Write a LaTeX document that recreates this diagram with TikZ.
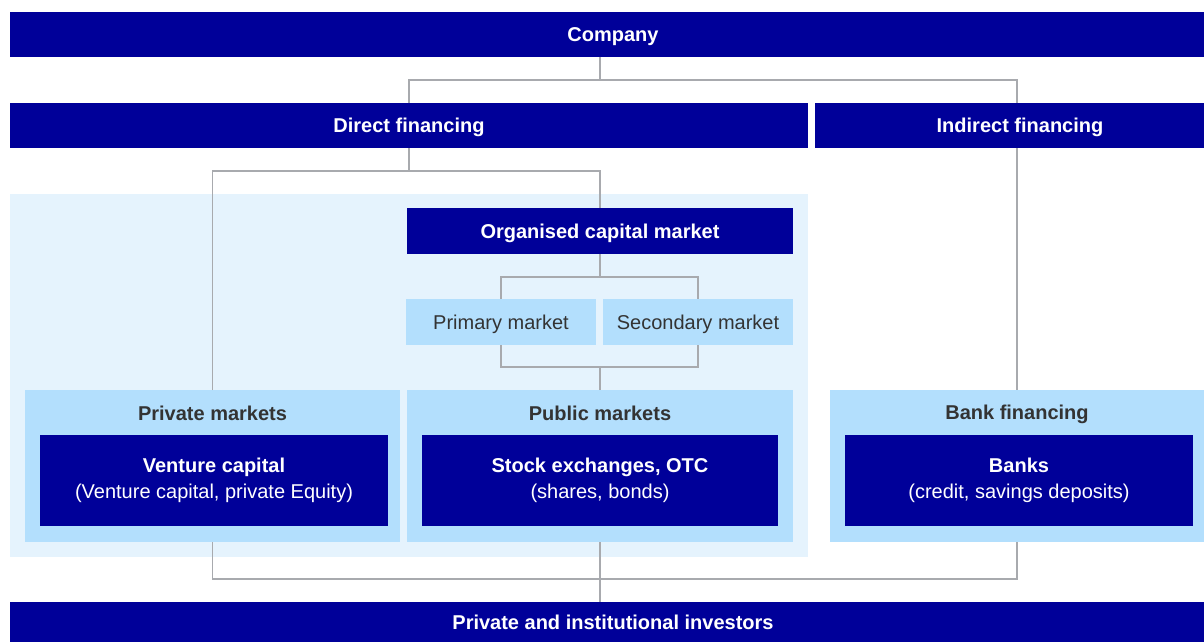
\documentclass[tikz,border=0pt]{standalone}
\usepackage{fontspec}
\setmainfont{Liberation Sans}
\usetikzlibrary{calc}
\definecolor{darkblue}{RGB}{0,0,153}
\definecolor{lightbox}{RGB}{179,223,253}
\definecolor{bgblue}{RGB}{229,243,253}
\definecolor{textgray}{RGB}{51,51,51}
\definecolor{lineg}{RGB}{168,170,174}
\tikzset{
  darkrect/.style={fill=darkblue, draw=none, inner sep=0pt, outer sep=0pt, text=white, align=center,
    font=\fontsize{20}{26}\selectfont},
  lightrect/.style={fill=lightbox, draw=none, inner sep=0pt, outer sep=0pt, text=textgray, align=center,
    font=\fontsize{20}{26}\selectfont},
  oneline/.style={text height=14.5pt, text depth=0pt},
  whitetext/.style={inner sep=0pt, text=white, font=\fontsize{20}{26}\selectfont\bfseries, oneline},
  graytitle/.style={inner sep=0pt, text=textgray, font=\fontsize{20}{26}\selectfont\bfseries, oneline},
  conn/.style={draw=lineg, line width=1.3pt}
}
\begin{document}
\begin{tikzpicture}[x=1pt,y=-1pt]
\useasboundingbox (0,0) rectangle (1204,642);
% background region of direct financing
\fill[bgblue] (10,194) rectangle (808,557);

% top bars
\node[darkrect, minimum width=1194pt, minimum height=45pt] (company) at (607,34.5) {};
\node[whitetext] (companyt) at (613,34.5) {Company};
\node[darkrect, oneline, minimum width=798pt, minimum height=45pt, font=\fontsize{20}{26}\selectfont\bfseries] (direct) at (409,125.5) {Direct financing};
\node[darkrect, minimum width=389pt, minimum height=45pt] (indirect) at (1009.5,125.5) {};
\node[whitetext] (indirectt) at (1020,125.5) {Indirect financing};

% organised capital market
\node[darkrect, oneline, minimum width=386pt, minimum height=46pt, font=\fontsize{20}{26}\selectfont\bfseries] (ocm) at (600,231) {Organised capital market};
\node[lightrect, oneline, minimum width=190pt, minimum height=46pt] (primary) at (501,322) {Primary market};
\node[lightrect, oneline, minimum width=190pt, minimum height=46pt] (secondary) at (698,322) {Secondary market};

% market boxes
\node[lightrect, minimum width=375pt, minimum height=152pt] (private) at (212.5,466) {};
\node[lightrect, minimum width=386pt, minimum height=152pt] (public) at (600,466) {};
\node[lightrect, minimum width=374pt, minimum height=152pt] (bankfin) at (1017,466) {};
\node[graytitle] (privatet) at (212.5,413) {Private markets};
\node[graytitle] (publict) at (600,413.5) {Public markets};
\node[graytitle] (bankfint) at (1017,412) {Bank financing};

\node[darkrect, minimum width=348pt, minimum height=91pt] (vc) at (214,480.5)
  {\textbf{Venture capital}\\(Venture capital, private Equity)};
\node[darkrect, minimum width=356pt, minimum height=91pt] (stock) at (600,480.5)
  {\textbf{Stock exchanges, OTC}\\(shares, bonds)};
\node[darkrect, minimum width=348pt, minimum height=91pt] (banks) at (1019,480.5)
  {\textbf{Banks}\\(credit, savings deposits)};

% bottom bar
\node[darkrect, minimum width=1194pt, minimum height=40pt] (investors) at (607,622) {};
\node[whitetext] (investorst) at (613,622) {Private and institutional investors};

% junctions
\coordinate (jA) at (600,80);
\coordinate (jB) at (409,171);
\coordinate (jC) at (600,277);
\coordinate (jD) at (600,367);
\coordinate (jE) at (600,579);

% connectors
\draw[conn] (company.south -| jA) -- (jA);
\draw[conn] (direct.north) |- (jA) -| (indirect.north -| bankfin.north);
\draw[conn] (indirect.south -| bankfin.north) -- (bankfin.north);
\draw[conn] (direct.south) -- (jB);
\draw[conn] (private.north) |- (jB) -| (ocm.north);
\draw[conn] (ocm.south) -- (jC);
\draw[conn] (primary.north) |- (jC) -| (secondary.north);
\draw[conn] (primary.south) |- (jD) -| (secondary.south);
\draw[conn] (jD) -- (public.north);
\draw[conn] (private.south) |- (jE) -| (bankfin.south);
\draw[conn] (public.south) -- (investors.north -| public.south);
\end{tikzpicture}
\end{document}
